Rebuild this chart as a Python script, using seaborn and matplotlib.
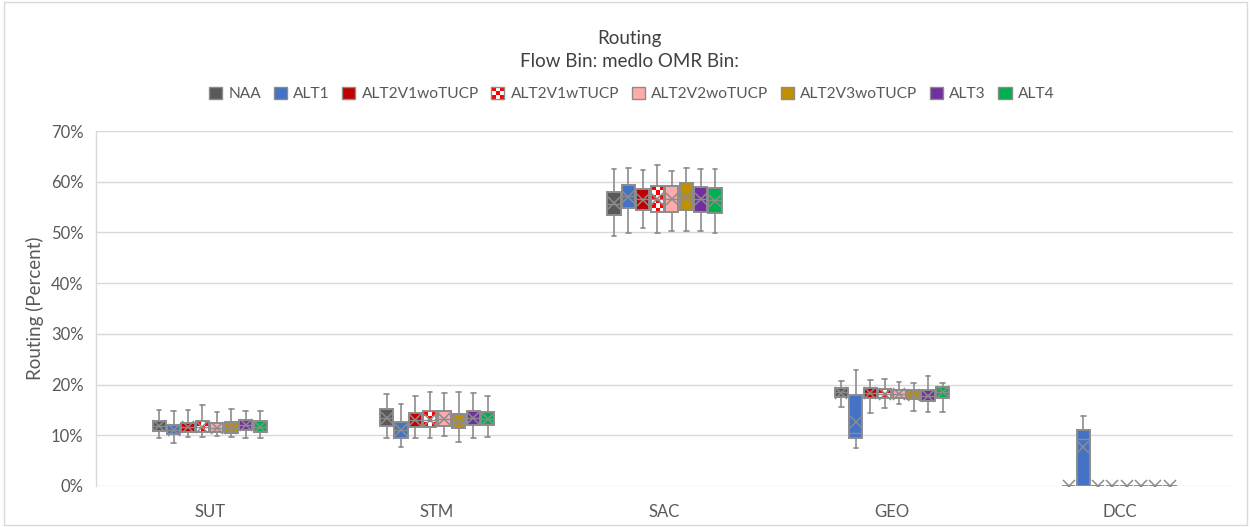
import numpy as np
import matplotlib
matplotlib.use("Agg")
import matplotlib.pyplot as plt
import seaborn as sns
from matplotlib.patches import Patch, Rectangle
from matplotlib.legend_handler import HandlerBase

# Excel-style box & whisker summary, values in percent
categories = ["SUT", "STM", "SAC", "GEO", "DCC"]
series = ["NAA", "ALT1", "ALT2V1woTUCP", "ALT2V1wTUCP",
          "ALT2V2woTUCP", "ALT2V3woTUCP", "ALT3", "ALT4"]

whis_lo = [
    [9.4, 9.4, 49.2, 15.6, 0.0],
    [8.4, 7.6, 49.8, 7.4, 0.0],
    [9.7, 9.4, 50.8, 14.3, 0.0],
    [9.7, 9.5, 49.8, 15.3, 0.0],
    [9.9, 9.9, 50.3, 16.1, 0.0],
    [9.7, 8.6, 50.3, 14.7, 0.0],
    [9.5, 9.5, 50.3, 14.5, 0.0],
    [9.5, 9.7, 49.8, 14.5, 0.0],
]
q1 = [
    [10.8, 11.8, 53.4, 17.6, 0.0],
    [10.2, 9.5, 54.8, 9.5, 0.0],
    [10.6, 11.7, 54.4, 17.4, 0.0],
    [10.6, 11.6, 54.1, 17.4, 0.0],
    [10.6, 11.9, 54.0, 17.3, 0.0],
    [10.4, 11.4, 54.4, 17.2, 0.0],
    [11.0, 12.0, 54.1, 16.8, 0.0],
    [10.6, 12.0, 53.9, 17.4, 0.0],
]
median = [
    [11.9, 13.5, 55.7, 18.5, 0.0],
    [11.1, 11.1, 57.1, 10.5, 9.2],
    [11.6, 13.0, 56.5, 18.3, 0.0],
    [11.7, 13.1, 56.6, 18.2, 0.0],
    [11.5, 13.3, 56.6, 18.1, 0.0],
    [11.5, 12.7, 57.0, 18.0, 0.0],
    [12.0, 13.4, 56.5, 17.8, 0.0],
    [11.7, 13.2, 56.3, 18.5, 0.0],
]
q3 = [
    [12.9, 15.2, 58.0, 19.3, 0.0],
    [12.0, 12.7, 59.4, 18.0, 11.0],
    [12.5, 14.3, 58.5, 19.3, 0.0],
    [12.8, 14.7, 59.2, 19.1, 0.0],
    [12.4, 14.8, 59.2, 18.9, 0.0],
    [12.6, 14.1, 59.7, 18.9, 0.0],
    [13.0, 14.8, 59.0, 18.9, 0.0],
    [12.8, 14.5, 58.7, 19.6, 0.0],
]
whis_hi = [
    [15.0, 18.1, 62.5, 20.8, 0.0],
    [14.8, 16.2, 62.8, 22.9, 13.9],
    [15.0, 17.8, 62.3, 20.9, 0.0],
    [16.0, 18.5, 63.3, 21.1, 0.0],
    [14.5, 18.3, 62.2, 20.6, 0.0],
    [15.1, 18.5, 62.8, 20.4, 0.0],
    [14.8, 18.3, 62.5, 21.6, 0.0],
    [14.8, 17.8, 62.5, 20.4, 0.0],
]
mean = [
    [11.9, 13.5, 55.8, 18.4, 0.0],
    [11.1, 11.1, 57.0, 12.7, 7.6],
    [11.6, 13.0, 56.4, 18.3, 0.0],
    [11.7, 13.1, 56.6, 18.2, 0.0],
    [11.5, 13.3, 56.6, 18.1, 0.0],
    [11.5, 12.7, 57.0, 18.0, 0.0],
    [12.0, 13.4, 56.5, 17.8, 0.0],
    [11.7, 13.2, 56.2, 18.5, 0.0],
]

colors = {
    "NAA": "#595959",
    "ALT1": "#4472C4",
    "ALT2V1woTUCP": "#C00000",
    "ALT2V1wTUCP": "#FF0000",
    "ALT2V2woTUCP": "#FFABAB",
    "ALT2V3woTUCP": "#BF9000",
    "ALT3": "#7030A0",
    "ALT4": "#00B050",
}
CHECKER = "ALT2V1wTUCP"
EDGE = "#8C8C8C"
TXT = "#595959"


class CheckerHandler(HandlerBase):
    def create_artists(self, legend, orig_handle, xdescent, ydescent,
                       width, height, fontsize, trans):
        n = 3
        out = []
        cw, ch = width / n, height / n
        for i in range(n):
            for j in range(n):
                c = "#FF0000" if (i + j) % 2 == 0 else "white"
                out.append(Rectangle((-xdescent + i * cw, -ydescent + j * ch), cw, ch,
                                     facecolor=c, edgecolor="none", transform=trans))
        out.append(Rectangle((-xdescent, -ydescent), width, height, facecolor="none",
                             edgecolor=EDGE, lw=1, transform=trans))
        return out


sns.set_theme(style="white")
plt.rcParams["font.family"] = ["Lato", "DejaVu Sans"]

fig = plt.figure(figsize=(12.51, 5.27), dpi=100)
ax = fig.add_axes([0.0767, 0.0778, 0.909, 0.6736])

n_ser = len(series)
step = 0.0635
box_w = 0.058

ax.set_xlim(-0.5, len(categories) - 0.5)
ax.set_ylim(0, 70)

checker_boxes = []
for s, name in enumerate(series):
    stats = []
    for c in range(len(categories)):
        stats.append(dict(whislo=whis_lo[s][c], q1=q1[s][c], med=median[s][c],
                          q3=q3[s][c], whishi=whis_hi[s][c], mean=mean[s][c],
                          fliers=[]))
    pos = np.arange(len(categories)) + (s - (n_ser - 1) / 2) * step
    face = "none" if name == CHECKER else colors[name]
    bp = ax.bxp(stats, positions=pos, widths=box_w, patch_artist=True,
                showmeans=True, showfliers=False, manage_ticks=False,
                capwidths=box_w * 0.35,
                boxprops=dict(facecolor=face, edgecolor=EDGE, lw=1.4),
                whiskerprops=dict(color=EDGE, lw=1.2),
                capprops=dict(color=EDGE, lw=1.2),
                medianprops=dict(color=EDGE, lw=1.0),
                meanprops=dict(marker="x", markeredgecolor=EDGE, markersize=8,
                               markeredgewidth=1.1))
    if name == CHECKER:
        checker_boxes.extend(bp["boxes"])

# checkered fill for the ALT2V1wTUCP boxes
px_per_unit = ax.get_window_extent().height / 70.0
cmap = matplotlib.colors.ListedColormap(["#FF0000", "white"])
for patch in checker_boxes:
    ext = patch.get_path().get_extents()
    if ext.height <= 0:
        continue
    rows = max(int(round(ext.height * px_per_unit / 4.5)), 1)
    grid = (np.add.outer(np.arange(rows), np.arange(3)) % 2).astype(float)
    ax.imshow(grid, extent=(ext.x0, ext.x1, ext.y0, ext.y1), cmap=cmap,
              vmin=0, vmax=1, aspect="auto", interpolation="nearest",
              clip_path=patch, zorder=1.9)

ax.set_xlim(-0.5, len(categories) - 0.5)
ax.set_ylim(0, 70)
ax.set_xticks(range(len(categories)))
ax.set_xticklabels(categories)
ax.set_yticks(range(0, 71, 10))
ax.set_yticklabels([f"{v}%" for v in range(0, 71, 10)])
ax.tick_params(axis="both", length=0, labelsize=12, labelcolor=TXT)
ax.tick_params(axis="x", pad=13)
ax.tick_params(axis="y", pad=9)
ax.set_ylabel("Routing (Percent)", fontsize=13.5, color=TXT, labelpad=5)

ax.set_axisbelow(True)
ax.yaxis.grid(True, color="#D9D9D9", lw=1)
ax.xaxis.grid(False)
for side in ["top", "right", "bottom"]:
    ax.spines[side].set_visible(False)
ax.spines["left"].set_color("#D9D9D9")
ax.spines["left"].set_linewidth(1)

fig.text(0.503, 0.927, "Routing", ha="center", va="center", fontsize=13.5, color="#404040")
fig.text(0.503, 0.884, "Flow Bin: medlo OMR Bin:", ha="center", va="center",
         fontsize=13.5, color="#404040")

handles = []
for name in series:
    if name == CHECKER:
        handles.append(Patch(label=name))
    else:
        handles.append(Patch(facecolor=colors[name], edgecolor=EDGE, lw=1, label=name))
fig.legend(handles=handles, labels=series, loc="center", bbox_to_anchor=(0.505, 0.822),
           ncol=n_ser, frameon=False, fontsize=11.2, handlelength=0.85, handleheight=0.85,
           handletextpad=0.4, columnspacing=0.8, labelcolor=TXT,
           handler_map={handles[series.index(CHECKER)]: CheckerHandler()})

fig.patches.append(Rectangle((0.003, 0.003), 0.994, 0.994, transform=fig.transFigure,
                             facecolor="none", edgecolor="#D9D9D9", lw=1))

fig.savefig("out.png", dpi=100)
